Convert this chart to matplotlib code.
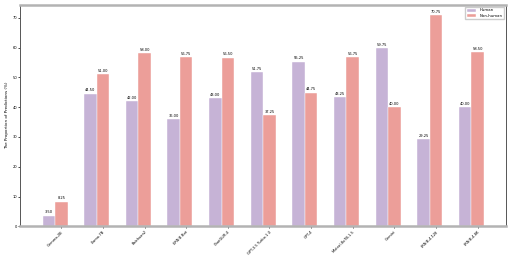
import numpy as np
import matplotlib
matplotlib.use("Agg")
import matplotlib.pyplot as plt

# Data
models = ["Gemma-2B", "Llama-7B", "Baichuan2", "ERNIE Bot", "ChatGLM-4",
          "GPT-3.5 Turbo-1.0", "GPT-4", "Mixtral-8x7B-1.5", "Gemini",
          "ERNIE-4-128", "ERNIE-4-8K"]
human = [3.50, 44.50, 42.00, 36.00, 43.00, 51.75, 55.25, 43.25, 59.75, 29.25, 40.00]
non_human = [8.25, 51.00, 58.00, 56.75, 56.50, 37.25, 44.75, 56.75, 40.00, 70.75, 58.50]

fig = plt.figure(figsize=(5.12, 2.57), dpi=100)
ax = fig.add_axes([0.040, 0.119, 0.948, 0.862])

x = np.arange(len(models))
w = 0.3
b1 = ax.bar(x, human, w, color="#c6b3d6", edgecolor="white", linewidth=0.3, label="Human")
b2 = ax.bar(x + w, non_human, w, color="#ec9e99", edgecolor="white", linewidth=0.3, label="Non-human")

# value labels on top of bars
for bars in (b1, b2):
    for r in bars:
        h = r.get_height()
        ax.text(r.get_x() + r.get_width() / 2, h + 0.5, f"{h:.2f}",
                ha="center", va="bottom", fontsize=2.6)

ax.set_xticks(x + w)
ax.set_xticklabels(models, rotation=45, ha="right", fontsize=2.6, rotation_mode="anchor")
ax.set_ylim(0, 74.3)
ax.set_yticks(np.arange(0, 71, 10))
ax.tick_params(axis="y", labelsize=2.6, length=1.5, width=0.5, pad=1)
ax.tick_params(axis="x", length=1.5, width=0.5, pad=1)
ax.set_ylabel("The Proportion of Predictions (%)", fontsize=3, labelpad=2)

# frame: grey thick top/bottom, dark thin left/right
for s in ("top", "bottom"):
    ax.spines[s].set_color("#b3b3b3")
    ax.spines[s].set_linewidth(1.8)
for s in ("left", "right"):
    ax.spines[s].set_color("#555555")
    ax.spines[s].set_linewidth(0.7)

ax.legend(loc="upper right", fontsize=2.8, handlelength=2.5, handleheight=0.8,
          borderpad=0.4, labelspacing=0.3, frameon=True, fancybox=False,
          edgecolor="#cccccc", framealpha=1)

plt.savefig("out.png", dpi=100)
plt.close()
